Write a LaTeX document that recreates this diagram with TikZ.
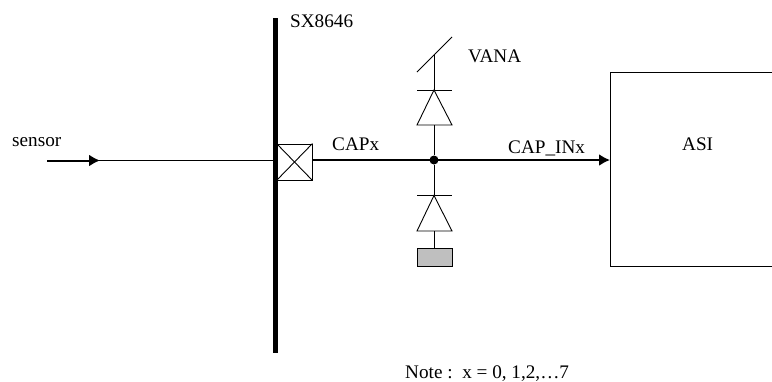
\documentclass[tikz,border=0pt]{standalone}
\usepackage{fontspec}
\setmainfont{Liberation Serif}
\usetikzlibrary{arrows.meta}
\tikzset{
  x=1pt,y=-1pt,
  lbl/.style={inner sep=0pt,font=\fontsize{19.2}{22}\selectfont,text=black},
  wire/.style={line width=1.1pt,draw=black},
  thin wire/.style={line width=0.9pt,draw=black},
  strong/.style={line width=2pt,draw=black},
  head/.style={-{Latex[length=11pt,width=12pt]}},
  diode/.style={line width=0.9pt,draw=black,fill=white},
}
\begin{document}
\begin{tikzpicture}
\useasboundingbox (0,0) rectangle (772,381);
\coordinate (start) at (47,160.5);
\coordinate (mid) at (100,160.5);
\coordinate (busT) at (275.5,18);
\coordinate (busB) at (275.5,353);
\coordinate (J) at (434,160);
% bus
\draw[line width=5pt] (busT) -- (busB);
% pad
\node[draw=black,line width=0.9pt,minimum width=35pt,minimum height=36pt,inner sep=0pt,fill=white] (pad) at (294.5,162) {};
\draw[thin wire] (pad.north west) -- (pad.south east);
\draw[thin wire] (pad.north east) -- (pad.south west);
% ASI
\node[draw=black,line width=0.9pt,minimum width=170pt,minimum height=194pt,inner sep=0pt,anchor=north west] (asi) at (610,72) {};
\node[lbl,anchor=base west] (asilabel) at (682,150) {ASI};
% sensor
\draw[wire] (95,160.5) -- (pad.west |- mid);
\draw[strong,head] (start) -- (mid);
% junction and output
\draw[strong] (pad.east |- J) -- (J);
\draw[strong,head] (J) -- (asi.west |- J);
\node[circle,fill=black,minimum size=9pt,inner sep=0pt] (dot) at (J) {};
% upper diode
\coordinate (sl1) at (417,72);
\coordinate (sl2) at (452,37);
\coordinate (railtop) at (434,55);
\draw[thin wire] (sl1) -- (sl2);
\coordinate (upbar) at (434,90);
\draw[thin wire] (railtop) -- (upbar);
\draw[thin wire] (417,90) -- (452,90);
\draw[diode] (434,90) -- (452,125) -- (417,125) -- cycle;
\draw[thin wire] (434,125) -- (dot);
% lower diode
\draw[thin wire] (dot) -- (434,195.5);
\draw[thin wire] (417,195.5) -- (452,195.5);
\draw[diode] (434,195.5) -- (452,231) -- (417,231) -- cycle;
\node[draw=black,line width=0.9pt,fill=black!25,minimum width=35pt,minimum height=18pt,inner sep=0pt] (gnd) at (434.5,257) {};
\draw[thin wire] (434,231) -- (434,248);
% labels
\node[lbl,anchor=base west] (sx) at (290,27) {SX8646};
\node[lbl,anchor=base west] (vana) at (468,62) {VANA};
\node[lbl,anchor=base west] (sen) at (12,146) {sensor};
\node[lbl,anchor=base west] (capx) at (332,150) {CAPx};
\node[lbl,anchor=base west] (capin) at (508,153) {CAP\_INx};
\node[lbl,anchor=base west] (note) at (405,378) {Note :\ \ x = 0, 1,2,…7};
\end{tikzpicture}
\end{document}
